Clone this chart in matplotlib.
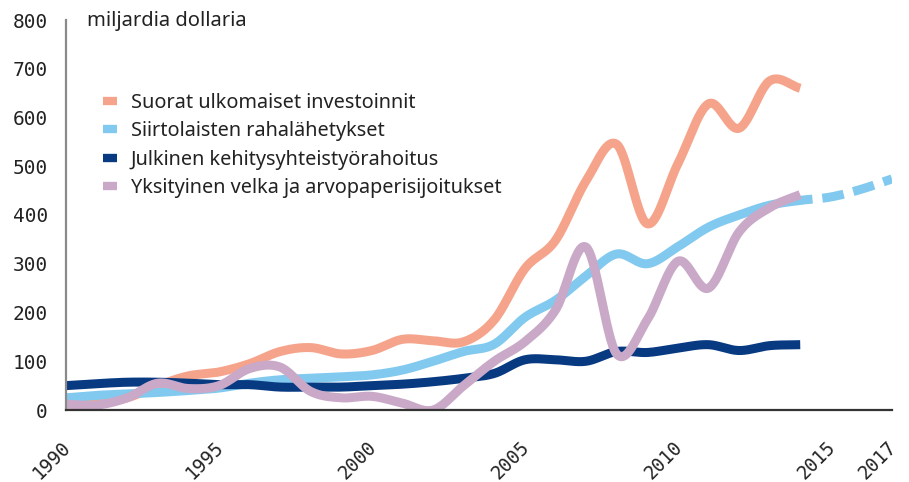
import matplotlib

matplotlib.use("Agg")
import matplotlib.pyplot as plt
import matplotlib.transforms as mtransforms
import numpy as np
from matplotlib.lines import Line2D

years = list(range(1990, 2018))

# miljardia dollaria
fdi = [12, 15, 25, 50, 70, 78, 95, 120, 128, 115, 122, 145, 142, 140, 185,
       290, 348, 470, 545, 382, 505, 628, 578, 675, 660]
remit = [25, 30, 33, 36, 40, 45, 55, 62, 65, 68, 72, 82, 100, 120, 135,
         190, 225, 275, 320, 300, 335, 375, 400, 420, 430, 437, 453, 474]
oda = [50, 54, 57, 57, 55, 52, 52, 47, 47, 47, 50, 53, 58, 65, 75,
       103, 103, 100, 120, 118, 127, 134, 122, 132, 134]
private = [12, 10, 25, 55, 44, 50, 85, 88, 38, 25, 28, 14, 0, 50, 100,
           140, 205, 334, 115, 185, 305, 250, 365, 415, 442]

labels = ["Suorat ulkomaiset investoinnit", "Siirtolaisten rahalähetykset",
          "Julkinen kehitysyhteistyörahoitus",
          "Yksityinen velka ja arvopaperisijoitukset"]
colors = ["#F5A48B", "#82C9EF", "#083A82", "#C9A9C7"]
remit_last_actual = 2014.4   # after this the series is an estimate (dashed)

xticks = [1990, 1995, 2000, 2005, 2010, 2015, 2017]
yticks = list(range(0, 801, 100))


def smooth(xs, ys, n=30):
    """Catmull-Rom curve through the yearly points, like a smoothed line."""
    x = np.asarray(xs, float)
    y = np.asarray(ys, float)
    px = np.concatenate([[2 * x[0] - x[1]], x, [2 * x[-1] - x[-2]]])
    py = np.concatenate([[2 * y[0] - y[1]], y, [2 * y[-1] - y[-2]]])
    t = np.linspace(0, 1, n, endpoint=False)
    outx, outy = [], []
    for i in range(1, len(px) - 2):
        for p, out in ((px, outx), (py, outy)):
            p0, p1, p2, p3 = p[i - 1], p[i], p[i + 1], p[i + 2]
            out.extend(0.5 * (2 * p1 + (-p0 + p2) * t
                              + (2 * p0 - 5 * p1 + 4 * p2 - p3) * t ** 2
                              + (-p0 + 3 * p1 - 3 * p2 + p3) * t ** 3))
    outx.append(x[-1])
    outy.append(y[-1])
    return np.array(outx), np.array(outy)


fig = plt.figure(figsize=(9.09, 4.82), dpi=100, facecolor="white")
ax = fig.add_axes([66 / 909, 1 - 410 / 482, 826 / 909, 390 / 482])

lw = 6.5
series = [fdi, remit, oda, private]
for vals, col in zip(series, colors):
    sx, sy = smooth(years[:len(vals)], vals)
    if vals is remit:
        solid = sx <= remit_last_actual
        ax.plot(sx[solid], sy[solid], color=col, lw=lw, solid_capstyle="butt",
                solid_joinstyle="round")
        k = np.argmax(~solid) - 1
        ax.plot(sx[k:], sy[k:], color=col, lw=lw, dash_capstyle="butt",
                linestyle=(2.4, (2.4, 1.1)))
    else:
        ax.plot(sx, sy, color=col, lw=lw, solid_capstyle="butt",
                solid_joinstyle="round")

ax.set_xlim(1990, 2017)
ax.set_ylim(0, 800)
ax.set_yticks(yticks)
ax.set_xticks(xticks)
ax.set_xticklabels([str(y) for y in xticks], rotation=45, ha="right",
                   va="top", rotation_mode="default",
                   family="DejaVu Sans Mono", fontsize=13.5, color="#222222")
ax.tick_params(length=0)
ax.tick_params(axis="y", pad=13, labelsize=14, labelcolor="#222222")
ax.tick_params(axis="x", pad=20)
for t in ax.get_yticklabels():
    t.set_fontfamily("DejaVu Sans Mono")
shift = mtransforms.ScaledTranslation(8 / 100, 0, fig.dpi_scale_trans)
for t in ax.get_xticklabels():
    t.set_transform(t.get_transform() + shift)

for side in ("top", "right"):
    ax.spines[side].set_visible(False)
ax.spines["left"].set_color("#8a8a8a")
ax.spines["left"].set_linewidth(1.6)
ax.spines["bottom"].set_color("#333333")
ax.spines["bottom"].set_linewidth(1.6)

fig.text(87 / 909, 1 - 21 / 482, "miljardia dollaria", family="Noto Sans",
         fontsize=14.5, color="#222222", va="center", ha="left")

handles = [Line2D([], [], color=c, lw=6, solid_capstyle="butt") for c in colors]
ax.legend(handles, labels, loc="upper left", frameon=False,
          bbox_to_anchor=(103 / 909, 1 - 93 / 482),
          bbox_transform=fig.transFigure, borderpad=0, borderaxespad=0,
          handlelength=0.7, handletextpad=0.7, labelspacing=0.42,
          prop={"family": "Noto Sans", "size": 14.3}, labelcolor="#222222")

fig.savefig("out.png", dpi=100, facecolor="white")
